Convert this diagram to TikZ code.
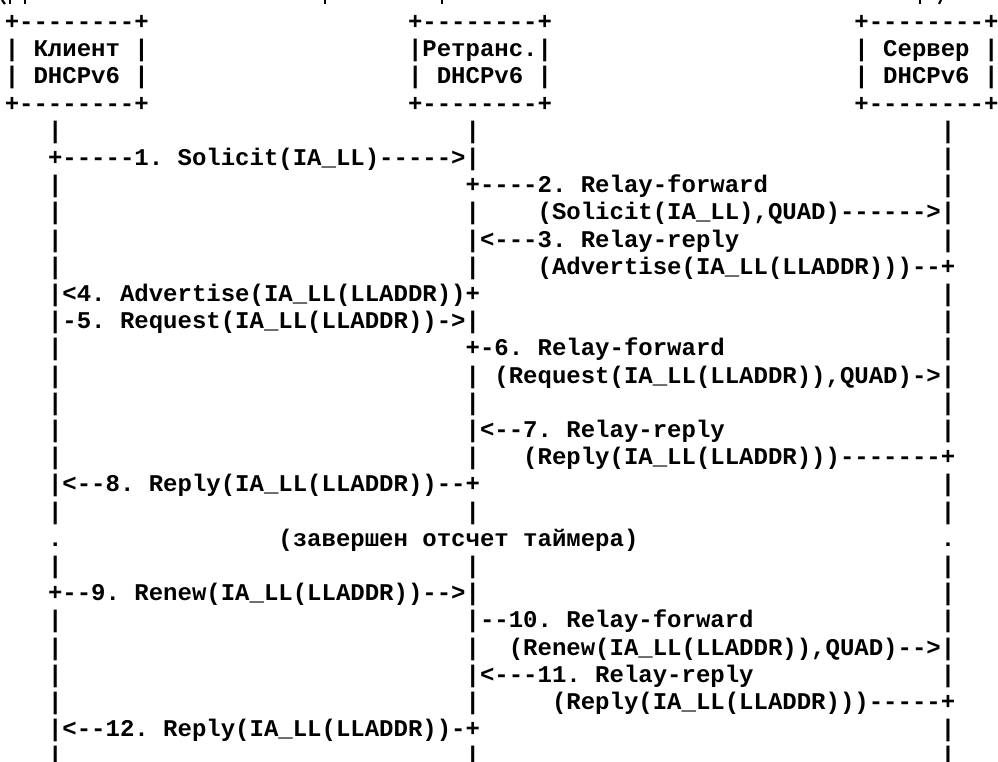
\documentclass[tikz,border=0pt]{standalone}
\usepackage{fontspec}
\setmonofont{Liberation Mono}
\begin{document}
\begin{tikzpicture}[x=1pt,y=1pt,
  asc/.style={anchor=base west, inner sep=0pt, outer sep=0pt,
    font=\ttfamily\bfseries\frenchspacing\fontsize{24}{24}\selectfont},
  frag/.style={line width=2.2pt}]
\useasboundingbox (0,0) rectangle (998,-761);
\clip (0,0) rectangle (998,-761);
% one text cell per segment: name, column, row, text
\newcommand\ascseg[4]{\node[asc] (#1) at ({4.8+14.4*#2},{-29.4-27.2*#3}) {#4};}
\newcommand\ul{\textunderscore}

% descenders of the line above
\draw[frag] (2,0) -- (5,-4);
\draw[frag] (10,0) -- (10,-4);
\draw[frag] (25,0) -- (25,-4);
\draw[frag] (325,0) -- (325,-4);
\draw[frag] (442,0) -- (442,-4);
\draw[frag] (920,0) -- (920,-4);
\draw[frag] (941,0) -- (939,-4);

% participant boxes
\ascseg{cb0}{0}{0}{+--------+}
\ascseg{rb0}{28}{0}{+--------+}
\ascseg{sb0}{59}{0}{+--------+}
\ascseg{cb1}{0}{1}{| Клиент |}
\ascseg{rb1}{28}{1}{|Ретранс.|}
\ascseg{sb1}{59}{1}{| Сервер |}
\ascseg{cb2}{0}{2}{| DHCPv6 |}
\ascseg{rb2}{28}{2}{| DHCPv6 |}
\ascseg{sb2}{59}{2}{| DHCPv6 |}
\ascseg{cb3}{0}{3}{+--------+}
\ascseg{rb3}{28}{3}{+--------+}
\ascseg{sb3}{59}{3}{+--------+}

% client lifeline
\foreach \k in {4,6,7,8,9,12,13,14,15,16,18,20,22,23,24,25,27}
  {\ascseg{c\k}{3}{\k}{|}}
% relay lifeline
\foreach \k in {4,7,9,13,14,16,18,20,23,25,27}
  {\ascseg{r\k}{32}{\k}{|}}
% server lifeline
\foreach \k in {4,5,6,8,10,11,12,14,15,17,18,20,21,22,24,26,27}
  {\ascseg{s\k}{65}{\k}{|}}

% messages
\ascseg{m1}{3}{5}{+-----1. Solicit(IA\ul LL)----->|}
\ascseg{m2a}{32}{6}{+----2. Relay-forward}
\ascseg{m2b}{37}{7}{(Solicit(IA\ul LL),QUAD)------>|}
\ascseg{m3a}{32}{8}{|<---3. Relay-reply}
\ascseg{m3b}{37}{9}{(Advertise(IA\ul LL(LLADDR)))--+}
\ascseg{m4}{3}{10}{|<4. Advertise(IA\ul LL(LLADDR))+}
\ascseg{m5}{3}{11}{|-5. Request(IA\ul LL(LLADDR))->|}
\ascseg{m6a}{32}{12}{+-6. Relay-forward}
\ascseg{m6b}{34}{13}{(Request(IA\ul LL(LLADDR)),QUAD)->|}
\ascseg{m7a}{32}{15}{|<--7. Relay-reply}
\ascseg{m7b}{36}{16}{(Reply(IA\ul LL(LLADDR)))-------+}
\ascseg{m8}{3}{17}{|<--8. Reply(IA\ul LL(LLADDR))--+}

% timer
\ascseg{tc}{3}{19}{.}
\ascseg{tt}{19}{19}{(завершен отсчет таймера)}
\ascseg{ts}{65}{19}{.}

\ascseg{m9}{3}{21}{+--9. Renew(IA\ul LL(LLADDR))-->|}
\ascseg{m10a}{32}{22}{|--10. Relay-forward}
\ascseg{m10b}{35}{23}{(Renew(IA\ul LL(LLADDR)),QUAD)-->|}
\ascseg{m11a}{32}{24}{|<---11. Relay-reply}
\ascseg{m11b}{38}{25}{(Reply(IA\ul LL(LLADDR)))-----+}
\ascseg{m12}{3}{26}{|<--12. Reply(IA\ul LL(LLADDR))-+}
\end{tikzpicture}
\end{document}
